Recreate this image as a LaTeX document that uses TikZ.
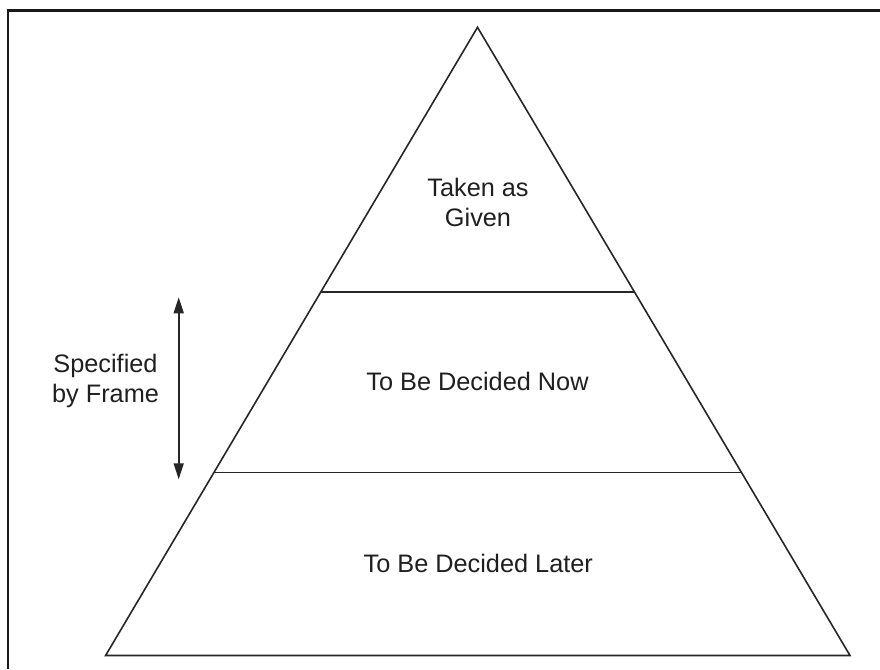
\documentclass[tikz,border=0pt]{standalone}
\usepackage{fontspec}
\setmainfont{Liberation Sans}
\usetikzlibrary{calc,arrows.meta}
\begin{document}
\begin{tikzpicture}[x=1pt,y=-1pt,
  edge/.style={draw=black!85,line width=1.6pt,line join=miter},
  frameline/.style={draw=black!90,line width=2.4pt},
  label/.style={text=black!88,font=\fontsize{25.3}{30}\selectfont,align=center,inner sep=0pt},
  span/.style={draw=black!85,line width=1.6pt,{Triangle[length=16pt,width=10pt]}-{Triangle[length=16pt,width=10pt]}}]
  \useasboundingbox (0,0) rectangle (880,669);
  % outer frame (open on the right and bottom)
  \coordinate (fb) at (8,669);
  \coordinate (fc) at (8,10.5);
  \coordinate (fr) at (880,10.5);
  \draw[frameline] (fb) -- (fc) -- (fr);
  % pyramid outline
  \coordinate (apex) at (477.5,27.3);
  \coordinate (bl) at (105.6,655.5);
  \coordinate (br) at (850,655.5);
  \draw[edge] (apex) -- (bl) -- (br) -- cycle;
  % tier dividers
  \coordinate (ul) at ($(apex)!0.4209!(bl)$);
  \coordinate (ur) at ($(apex)!0.4209!(br)$);
  \coordinate (ll) at ($(apex)!0.709!(bl)$);
  \coordinate (lr) at ($(apex)!0.709!(br)$);
  \draw[edge] (ul) -- (ur);
  \draw[edge] (ll) -- (lr);
  % tier labels
  \node[label] (top) at (478,202.6) {Taken as\\Given};
  \node[label] (mid) at (477.5,381.7) {To Be Decided Now};
  \node[label] (low) at (478.3,563.2) {To Be Decided Later};
  % frame extent marker
  \coordinate (sa) at (178.7,297.3);
  \coordinate (sb) at (178.7,479.3);
  \draw[span] (sa) -- (sb);
  \node[label] (spec) at (105.5,381) {Specified\\by Frame};
\end{tikzpicture}
\end{document}
